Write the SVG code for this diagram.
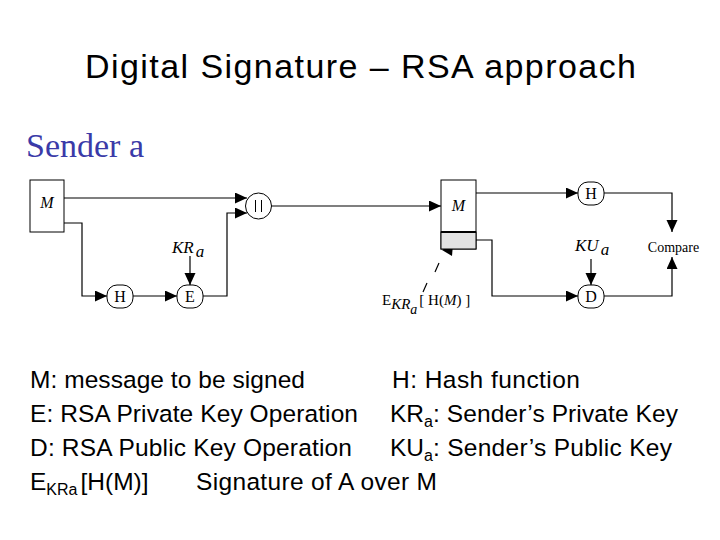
<svg xmlns="http://www.w3.org/2000/svg" width="720" height="540" viewBox="0 0 720 540">
<style>
.t{font-family:"Liberation Sans",Arial,sans-serif;fill:#000}
.s{font-family:"Liberation Serif","Times New Roman",serif;fill:#000}
.i{font-style:italic}
.ln{fill:none;stroke:#000;stroke-width:1.2}
.nd{fill:#fff;stroke:#000;stroke-width:1}
</style>
<defs>
<marker id="ah" markerUnits="userSpaceOnUse" markerWidth="14" markerHeight="12" refX="12" refY="5.5" orient="auto">
<path d="M0,0 L12,5.5 L0,11 z" fill="#000"/>
</marker>
</defs>
<rect width="720" height="540" fill="#fff"/>
<text class="t" x="85" y="78" font-size="34" textLength="551" lengthAdjust="spacing">Digital Signature – RSA approach</text>
<text x="26" y="157" font-family="'Liberation Serif','Times New Roman',serif" font-size="34" fill="#3a3aa8">Sender a</text>

<g id="connectors">
<path class="ln" d="M64,198 H247" marker-end="url(#ah)"/>
<path class="ln" d="M64,223 H82 V296 H107" marker-end="url(#ah)"/>
<path class="ln" d="M133,296 H177" marker-end="url(#ah)"/>
<path class="ln" d="M190,256 V285" marker-end="url(#ah)"/>
<path class="ln" d="M203,296 H227 V213 H247" marker-end="url(#ah)"/>
<path class="ln" d="M271,206 H441" marker-end="url(#ah)"/>
<path class="ln" d="M476,193 H578" marker-end="url(#ah)"/>
<path class="ln" d="M476,240 H492 V296 H578" marker-end="url(#ah)"/>
<path class="ln" d="M604,193 H672 V232" marker-end="url(#ah)"/>
<path class="ln" d="M604,296 H672 V257" marker-end="url(#ah)"/>
<path class="ln" d="M591,259 V285" marker-end="url(#ah)"/>
<path class="ln" d="M423,292 L427,283 M435,272 L439,263"/>
<polygon points="442,250 453,244 452,256" fill="#000"/>
</g>

<g id="msg">
<rect class="nd" x="30" y="180" width="34" height="52"/>
<text class="s i" x="47" y="208" font-size="16" text-anchor="middle">M</text>
</g>
<g id="hash1">
<rect class="nd" x="107" y="285" width="26" height="23" rx="10" ry="10"/>
<text class="s" x="120" y="302" font-size="16" text-anchor="middle">H</text>
</g>
<g id="encrypt">
<rect class="nd" x="177" y="285" width="26" height="23" rx="10" ry="10"/>
<text class="s" x="190" y="302" font-size="16" text-anchor="middle">E</text>
</g>
<g id="kra">
<text class="s i" x="172" y="253" font-size="17">KR<tspan dx="2" dy="4">a</tspan></text>
</g>
<g id="concat">
<circle class="nd" cx="258.5" cy="206" r="13"/>
<path d="M255.5,200 V212 M261.5,200 V212" stroke="#000" stroke-width="1"/>
</g>
<g id="received">
<rect class="nd" x="441" y="180" width="35" height="69"/>
<rect x="441" y="232" width="35" height="17" fill="#e2e2e2" stroke="#000" stroke-width="1"/>
<line x1="441" y1="232" x2="476" y2="232" stroke="#000" stroke-width="2.2"/>
<text class="s i" x="458.5" y="211" font-size="16" text-anchor="middle">M</text>
</g>
<g id="siglabel">
<text class="s" x="382" y="305" font-size="15">E<tspan class="i" dy="4" font-size="15">KR</tspan><tspan class="i" dy="5" font-size="14">a</tspan><tspan dy="-9" dx="2">[ H(</tspan><tspan class="i">M</tspan><tspan>) ]</tspan></text>
</g>
<g id="hash2">
<rect class="nd" x="578" y="182" width="26" height="23" rx="10" ry="10"/>
<text class="s" x="591" y="199" font-size="16" text-anchor="middle">H</text>
</g>
<g id="decrypt">
<rect class="nd" x="578" y="285" width="26" height="23" rx="10" ry="10"/>
<text class="s" x="591" y="302" font-size="16" text-anchor="middle">D</text>
</g>
<g id="kua">
<text class="s i" x="575" y="251" font-size="17">KU<tspan dx="2" dy="4">a</tspan></text>
</g>
<g id="compare">
<text class="s" x="673.5" y="252" font-size="14" text-anchor="middle">Compare</text>
</g>

<g id="legend" font-size="24.5">
<text class="t" x="30" y="388" textLength="275" lengthAdjust="spacing">M: message to be signed</text>
<text class="t" x="30" y="422" textLength="328" lengthAdjust="spacing">E: RSA Private Key Operation</text>
<text class="t" x="30" y="456" textLength="322" lengthAdjust="spacing">D: RSA Public Key Operation</text>
<text class="t" x="30" y="490">E<tspan font-size="16" dy="5">KRa</tspan><tspan dy="-5" dx="3">[H(M)]</tspan></text>
<text class="t" x="196" y="490" textLength="241" lengthAdjust="spacing">Signature of A over M</text>
<text class="t" x="392" y="388" textLength="188" lengthAdjust="spacing">H: Hash function</text>
<text class="t" x="390" y="422">KR<tspan font-size="16" dy="5">a</tspan><tspan dy="-5" textLength="245" lengthAdjust="spacing">: Sender’s Private Key</tspan></text>
<text class="t" x="390" y="456">KU<tspan font-size="16" dy="5">a</tspan><tspan dy="-5" textLength="239" lengthAdjust="spacing">: Sender’s Public Key</tspan></text>
</g>
</svg>
